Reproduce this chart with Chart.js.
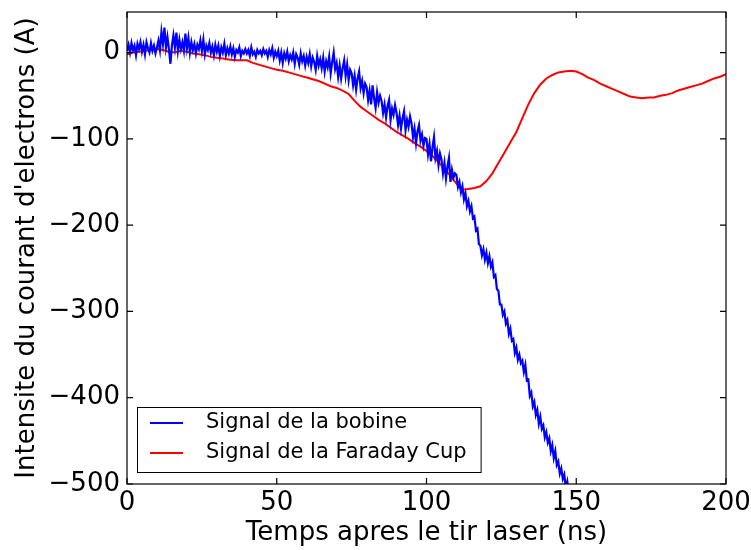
<!DOCTYPE html>
<html>
<head>
<meta charset="utf-8">
<script src="https://cdn.jsdelivr.net/npm/chart.js@4"></script>
<style>
  html, body { margin: 0; padding: 0; background: #fff; }
  #wrap { width: 751px; height: 550px; }
</style>
</head>
<body>
<div id="wrap"><canvas id="chart" width="751" height="550"></canvas></div>
<script>
// tick labels
const xTicks = [0, 50, 100, 150, 200];
const yTicks = [-500, -400, -300, -200, -100, 0];

// Signal de la bobine, one value every 0.5 ns from 0 to 150 ns
const bobine = [
  2, 9, 0, 11, 3, 8, -3, 10, 4, 12,
  1, 9, -2, 12, 5, 0, 11, 2, 8, -1,
  6, 14, 3, 24, 10, 29, 6, 18, 4, -13,
  8, 20, 6, 23, 2, 15, 4, 12, 2, 22,
  5, 17, 0, 12, 3, 10, -1, 9, 4, 14,
  2, 15, -2, 8, 3, 11, 0, 7, -3, 9,
  1, 8, -4, 6, 0, 10, -3, 5, -1, 7,
  -2, 5, -5, 3, 0, 6, -4, 2, -1, 4,
  -1, 3, -4, 6, -2, 1, -5, 3, -1, 2,
  -3, 4, -1, 2, -5, 3, -2, 5, -6, 1,
  -4, 2, -9, 0, -12, -1, -7, 1, -10, -3,
  -8, 0, -13, -2, -6, -14, -1, -10, -4, -15,
  -5, -12, -2, -16, -6, -11, -20, -4, -15, -8,
  -18, -6, -22, -10, -17, -5, -24, -11, 0, -19,
  -12, -28, -15, -30, -18, -9, -27, -14, -32, -20,
  -24, -38, -27, -43, -30, -22, -41, -33, -47, -36,
  -40, -55, -44, -60, -38, -53, -64, -46, -58, -50,
  -56, -70, -60, -75, -62, -55, -78, -65, -72, -61,
  -70, -84, -73, -88, -76, -68, -90, -78, -86, -74,
  -82, -98, -88, -105, -91, -84, -102, -95, -108, -99,
  -100, -118, -106, -126, -110, -98, -122, -114, -130, -117,
  -124, -140, -128, -146, -132, -122, -150, -136, -145, -140,
  -142, -156, -150, -162, -155, -170, -163, -178, -172, -184,
  -178, -192, -190, -206, -204, -222, -224, -235, -228, -240,
  -232, -244, -236, -248, -243, -260, -258, -274, -276, -292,
  -292, -304, -300, -314, -310, -326, -320, -334, -332, -348,
  -342, -356, -350, -360, -357, -370, -362, -380, -379, -398,
  -394, -410, -405, -420, -414, -430, -422, -436, -432, -446,
  -440, -452, -447, -462, -455, -470, -462, -478, -474, -488,
  -482, -494, -489, -504, -497, -512, -506, -520, -515, -528,
  -530
];

// Signal de la Faraday Cup, one value every 2 ns from 0 to 200 ns
const faraday = [
  -2, 0, 1, 2, 3, 4, 3, 1, 0, 2,
  1, -1, -2, -3, -5, -6, -7, -8, -9, -9,
  -9, -12, -14, -16, -18, -20, -21, -23, -25, -27,
  -29, -31, -33, -36, -39, -41, -44, -48, -56, -63,
  -68, -73, -78, -82, -87, -92, -96, -100, -105, -109,
  -114, -120, -127, -135, -143, -152, -159, -158, -157, -155,
  -149, -140, -128, -116, -104, -92, -76, -60, -47, -37,
  -30, -26, -23, -22, -21, -22, -25, -29, -32, -36,
  -39, -42, -45, -48, -51, -52, -53, -52, -52, -50,
  -49, -47, -44, -42, -40, -38, -36, -33, -30, -28,
  -25
];

const bobineStep = 0.5;
const faradayStep = 2;

const FONT = 'DejaVu Sans';
const minus = v => String(v).replace('-', '\u2212');

const frame = {
  id: 'frame',
  afterDatasetsDraw(chart) {
    const { ctx, chartArea: a, scales } = chart;
    ctx.save();
    ctx.strokeStyle = '#000';
    ctx.lineWidth = 1.2;
    ctx.strokeRect(a.left, a.top, a.right - a.left, a.bottom - a.top);
    const len = 6;
    ctx.beginPath();
    xTicks.forEach(v => {
      const x = scales.x.getPixelForValue(v);
      ctx.moveTo(x, a.bottom); ctx.lineTo(x, a.bottom - len);
      ctx.moveTo(x, a.top); ctx.lineTo(x, a.top + len);
    });
    yTicks.forEach(v => {
      const y = scales.y.getPixelForValue(v);
      ctx.moveTo(a.left, y); ctx.lineTo(a.left + len, y);
      ctx.moveTo(a.right, y); ctx.lineTo(a.right - len, y);
    });
    ctx.stroke();

    // legend box, lower left inside the axes
    const sets = chart.data.datasets;
    ctx.font = '21px "' + FONT + '"';
    let w = 0;
    sets.forEach(d => { w = Math.max(w, ctx.measureText(d.label).width); });
    const bx = a.left + 10, by = a.bottom - 77;
    const bw = 69 + w + 14, bh = 65;
    ctx.fillStyle = '#fff';
    ctx.fillRect(bx, by, bw, bh);
    ctx.lineWidth = 1;
    ctx.strokeRect(bx + 0.5, by + 0.5, bw, bh);
    ctx.textBaseline = 'middle';
    sets.forEach((d, i) => {
      const y = by + 16 + i * 30;
      ctx.strokeStyle = d.borderColor;
      ctx.lineWidth = 2;
      ctx.beginPath();
      ctx.moveTo(bx + 13, y); ctx.lineTo(bx + 46, y);
      ctx.stroke();
      ctx.fillStyle = '#000';
      ctx.fillText(d.label, bx + 69, y);
    });
    ctx.restore();
  }
};

new Chart(document.getElementById('chart'), {
  type: 'line',
  data: {
    datasets: [
      {
        label: 'Signal de la bobine',
        data: bobine.map((v, i) => ({ x: i * bobineStep, y: v })),
        borderColor: '#0000ff',
        borderWidth: 2.2,
        pointRadius: 0,
        tension: 0,
        clip: 0
      },
      {
        label: 'Signal de la Faraday Cup',
        data: faraday.map((v, i) => ({ x: i * faradayStep, y: v })),
        borderColor: '#ff0000',
        borderWidth: 2,
        pointRadius: 0,
        tension: 0,
        clip: 0
      }
    ]
  },
  options: {
    responsive: false,
    animation: false,
    layout: { padding: { top: 12, right: 25, bottom: 0, left: 0 } },
    plugins: { legend: { display: false }, tooltip: { enabled: false } },
    scales: {
      x: {
        type: 'linear',
        min: 0,
        max: 200,
        afterBuildTicks: s => { s.ticks = xTicks.map(v => ({ value: v })); },
        afterFit: s => { s.height = 66; s.paddingLeft = 0; s.paddingRight = 0; },
        grid: { display: false, drawTicks: false },
        border: { display: false },
        ticks: {
          color: '#000',
          padding: 4,
          maxRotation: 0,
          font: { family: FONT, size: 26 },
          callback: v => minus(v)
        },
        title: {
          display: true,
          text: 'Temps apres le tir laser (ns)',
          color: '#000',
          font: { family: FONT, size: 26, lineHeight: 1.2 },
          padding: { top: 0, bottom: 1 }
        }
      },
      y: {
        type: 'linear',
        min: -500,
        max: 47,
        afterBuildTicks: s => { s.ticks = yTicks.map(v => ({ value: v })); },
        afterFit: s => { s.width = 127; s.paddingTop = 0; s.paddingBottom = 0; },
        grid: { display: false, drawTicks: false },
        border: { display: false },
        ticks: {
          color: '#000',
          padding: 7,
          font: { family: FONT, size: 26 },
          callback: v => minus(v)
        },
        title: {
          display: true,
          text: "Intensite du courant d'electrons (A)",
          color: '#000',
          font: { family: FONT, size: 26, lineHeight: 1.2 },
          padding: { top: 12, bottom: 0 }
        }
      }
    }
  },
  plugins: [frame]
});
</script>
</body>
</html>
